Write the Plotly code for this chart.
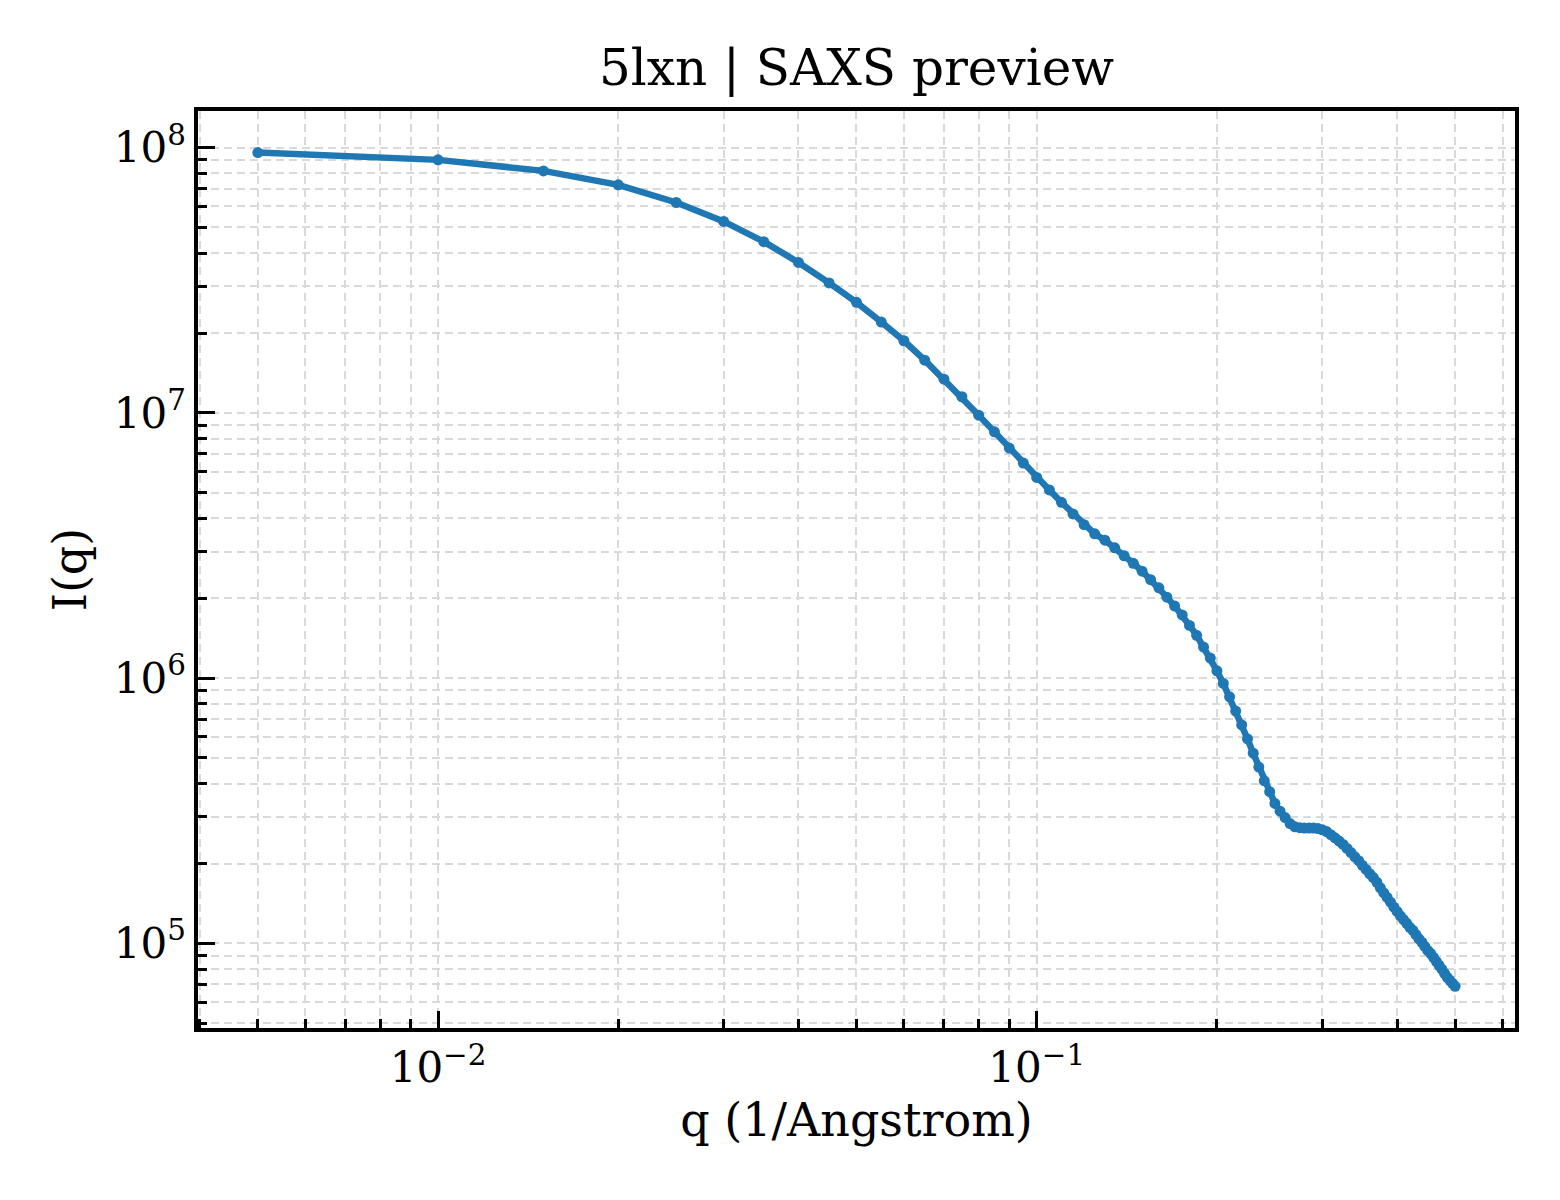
import plotly.graph_objects as go

q = [0.005, 0.010, 0.015, 0.020, 0.025, 0.030, 0.035, 0.040, 0.045, 0.050,
     0.055, 0.060, 0.065, 0.070, 0.075, 0.080, 0.085, 0.090, 0.095, 0.100,
     0.105, 0.110, 0.115, 0.120, 0.125, 0.130, 0.135, 0.140, 0.145, 0.150,
     0.155, 0.160, 0.165, 0.170, 0.175, 0.180, 0.185, 0.190, 0.195, 0.200,
     0.205, 0.210, 0.215, 0.220, 0.225, 0.230, 0.235, 0.240, 0.245, 0.250,
     0.255, 0.260, 0.265, 0.270, 0.275, 0.280, 0.285, 0.290, 0.295, 0.300,
     0.305, 0.310, 0.315, 0.320, 0.325, 0.330, 0.335, 0.340, 0.345, 0.350,
     0.355, 0.360, 0.365, 0.370, 0.375, 0.380, 0.385, 0.390, 0.395, 0.400,
     0.405, 0.410, 0.415, 0.420, 0.425, 0.430, 0.435, 0.440, 0.445, 0.450,
     0.455, 0.460, 0.465, 0.470, 0.475, 0.480, 0.485, 0.490, 0.495, 0.500]

intensity = [9.58e7, 8.99e7, 8.17e7, 7.24e7, 6.21e7, 5.27e7, 4.42e7, 3.69e7, 3.09e7, 2.61e7,
             2.20e7, 1.87e7, 1.58e7, 1.34e7, 1.15e7, 9.80e6, 8.48e6, 7.37e6, 6.47e6, 5.71e6,
             5.12e6, 4.60e6, 4.16e6, 3.79e6, 3.50e6, 3.31e6, 3.10e6, 2.89e6, 2.71e6, 2.53e6,
             2.35e6, 2.19e6, 2.02e6, 1.87e6, 1.73e6, 1.58e6, 1.45e6, 1.31e6, 1.19e6, 1.065e6,
             9.55e5, 8.50e5, 7.51e5, 6.66e5, 5.90e5, 5.21e5, 4.62e5, 4.10e5, 3.73e5, 3.37e5,
             3.15e5, 2.98e5, 2.83e5, 2.75e5, 2.73e5, 2.72e5, 2.72e5, 2.72e5, 2.71e5, 2.68e5,
             2.64e5, 2.57e5, 2.50e5, 2.43e5, 2.36e5, 2.28e5, 2.20e5, 2.12e5, 2.05e5, 1.97e5,
             1.90e5, 1.83e5, 1.77e5, 1.70e5, 1.62e5, 1.55e5, 1.49e5, 1.43e5, 1.37e5, 1.32e5,
             1.27e5, 1.23e5, 1.19e5, 1.15e5, 1.12e5, 1.08e5, 1.04e5, 1.01e5, 9.74e4, 9.41e4,
             9.17e4, 8.86e4, 8.56e4, 8.27e4, 7.99e4, 7.71e4, 7.45e4, 7.26e4, 7.07e4, 6.89e4]

x_major = [0.01, 0.1]
x_major_text = ["10<sup>\u22122</sup>", "10<sup>\u22121</sup>"]
y_major = [1e5, 1e6, 1e7, 1e8]
y_major_text = ["10<sup>5</sup>", "10<sup>6</sup>", "10<sup>7</sup>", "10<sup>8</sup>"]

x_minor = [m * d for d in (0.001, 0.01, 0.1) for m in range(2, 10) if m * d < 0.7]
y_minor = [m * d for d in (1e4, 1e5, 1e6, 1e7) for m in range(2, 10) if m * d > 4e4]

FONT = "DejaVu Serif"
GRID = "#d9d9d9"

fig = go.Figure()
fig.add_trace(go.Scatter(x=q, y=intensity, mode="lines+markers",
                         line=dict(color="#1f77b4", width=6.5),
                         marker=dict(color="#1f77b4", size=11)))

axis_common = dict(
    showline=True, linecolor="black", linewidth=3.5, mirror=True,
    ticks="inside", ticklen=17, tickwidth=3, tickcolor="black",
    showgrid=True, gridcolor=GRID, gridwidth=1.5, griddash="8px,5px",
    zeroline=False,
    tickfont=dict(family=FONT, size=42, color="black"),
)
minor_common = dict(ticks="inside", ticklen=9, tickwidth=2.5, tickcolor="black",
                    showgrid=True, gridcolor=GRID, gridwidth=1.5, griddash="8px,5px")

fig.update_xaxes(type="log", range=[-2.401, -0.201],
                 tickvals=x_major, ticktext=x_major_text,
                 minor=dict(tickvals=x_minor, **minor_common),
                 title=dict(text="q (1/Angstrom)", font=dict(family=FONT, size=46, color="black"),
                            standoff=14),
                 **axis_common)
fig.update_yaxes(type="log", range=[4.681, 8.138],
                 tickvals=y_major, ticktext=y_major_text,
                 minor=dict(tickvals=y_minor, **minor_common),
                 title=dict(text="I(q)", font=dict(family=FONT, size=46, color="black"),
                            standoff=14),
                 **axis_common)

fig.update_layout(
    width=1560, height=1200, autosize=False,
    margin=dict(l=190, r=53, t=103, b=180),
    plot_bgcolor="white", paper_bgcolor="white",
    showlegend=False,
    title=dict(text="5lxn | SAXS preview", x=0.5, xref="paper", xanchor="center",
               y=1 - 59 / 1200, yanchor="middle", yref="container",
               font=dict(family=FONT, size=50, color="black")),
)

fig.write_html("out.html")
